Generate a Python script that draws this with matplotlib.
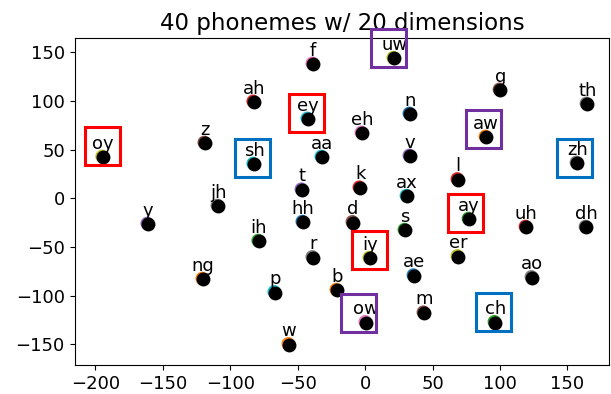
import matplotlib
matplotlib.use("Agg")
import matplotlib.pyplot as plt
from matplotlib.patches import Rectangle
from matplotlib.transforms import ScaledTranslation

phonemes = ["oy", "z", "ah", "sh", "f", "ey", "aa", "uw", "n", "g", "th", "eh", "aw", "v",
            "zh", "k", "l", "t", "ax", "y", "jh", "hh", "d", "s", "ay", "uh", "dh", "ih",
            "iy", "er", "r", "ng", "p", "ae", "ao", "b", "m", "ow", "ch", "w"]
x_vals = [-194.4, -118.7, -82.4, -82.4, -38.6, -42.3, -31.9, 21.5, 33.4, 100.2, 164.7, -2.2, 89.8, 33.4,
          157.3, -3.7, 69.0, -46.7, 31.2, -161.0, -109.0, -46.0, -8.9, 29.7, 77.2, 119.5, 164.0, -78.7,
          3.7, 69.0, -38.6, -120.2, -66.8, 36.4, 123.9, -20.8, 43.8, 0.7, 96.5, -56.4]
y_vals = [42.1, 56.5, 98.7, 34.9, 137.7, 81.2, 42.1, 143.5, 86.3, 111.0, 96.6, 66.8, 62.7, 43.2,
          36.0, 10.5, 19.0, 8.5, 2.0, -26.7, -8.2, -24.7, -25.0, -33.0, -21.6, -29.8, -29.8, -44.2,
          -61.7, -60.0, -61.0, -83.2, -96.9, -79.7, -81.5, -94.5, -117.8, -127.6, -127.6, -150.3]
under_colors = ["#bcbd22", "#8c564b", "#d62728", "#17becf", "#e377c2", "#17becf", "#17becf", "#bcbd22",
                "#1f77b4", "#8c564b", "#7f7f7f", "#e377c2", "#ff7f0e", "#9467bd", "#7f7f7f", "#d62728",
                "#d62728", "#9467bd", "#17becf", "#9467bd", "#7f7f7f", "#1f77b4", "#8c564b", "#2ca02c",
                "#2ca02c", "#d62728", "#7f7f7f", "#2ca02c", "#bcbd22", "#bcbd22", "#7f7f7f", "#ff7f0e",
                "#17becf", "#1f77b4", "#7f7f7f", "#ff7f0e", "#8c564b", "#e377c2", "#2ca02c", "#ff7f0e"]

box_labels = ["oy", "ey", "iy", "ay", "uw", "aw", "ow", "sh", "zh", "ch"]
box_x = [-194.8, -43.6, 3.0, 74.4, 17.1, 87.8, -4.8, -83.8, 155.1, 95.0]
box_y = [53.2, 87.4, -53.4, -14.9, 154.7, 70.9, -117.9, 41.6, 41.1, -117.2]
box_colors = ["#ff0000", "#ff0000", "#ff0000", "#ff0000",
              "#7030a0", "#7030a0", "#7030a0",
              "#0070c0", "#0070c0", "#0070c0"]

title = "40 phonemes w/ 20 dimensions"
x_ticks = [-200, -150, -100, -50, 0, 50, 100, 150]
y_ticks = [-150, -100, -50, 0, 50, 100, 150]

plt.rcParams["font.family"] = ["DejaVu Sans"]
fig = plt.figure(figsize=(6.11, 3.94), dpi=100)
ax = fig.add_axes([0.122, 0.074, 0.875, 0.8295])

off = ScaledTranslation(-0.8 / 100, 0.8 / 100, fig.dpi_scale_trans)
ax.scatter(x_vals, y_vals, s=96, c=under_colors, linewidths=0, transform=ax.transData + off, zorder=2)
ax.scatter(x_vals, y_vals, s=100, c="black", linewidths=0, zorder=3)

for lab, xv, yv in zip(phonemes, x_vals, y_vals):
    ax.annotate(lab, (xv, yv), xytext=(0, 6.2), textcoords="offset points",
                ha="center", va="baseline", fontsize=13, zorder=4)

bw, bh = 26.0, 39.0
for lab, bx, by, bc in zip(box_labels, box_x, box_y, box_colors):
    ax.add_patch(Rectangle((bx - bw / 2, by - bh / 2), bw, bh, fill=False,
                           edgecolor=bc, linewidth=2.2, clip_on=False, zorder=5))

ax.set_xlim(-215.5, 181)
ax.set_ylim(-171, 164.5)
ax.set_xticks(x_ticks)
ax.set_yticks(y_ticks)
ax.tick_params(labelsize=13)
ax.set_title(title, fontsize=16.5)

fig.savefig("out.png", dpi=100)
